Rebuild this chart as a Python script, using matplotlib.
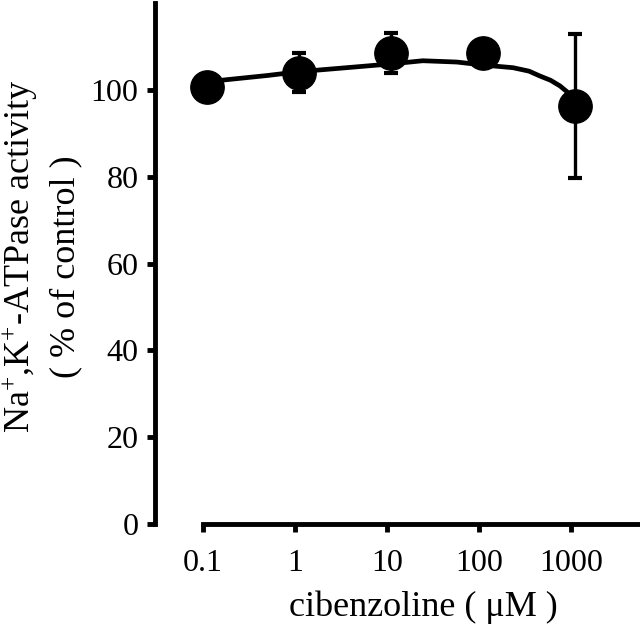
import matplotlib
matplotlib.use("Agg")
from matplotlib import pyplot as plt

# cibenzoline concentration (uM) and Na+,K+-ATPase activity (% of control)
conc = [0.11, 1.1, 11, 110, 1100]
activity = [100.7, 103.9, 108.5, 108.5, 96.2]
sem = [0, 4.5, 4.6, 0, 16.6]

# fitted curve
curve_x = [0.11, 0.174, 0.5, 1.13, 3.63, 11.5, 24.5, 57.5, 112, 234, 350, 457, 600, 759, 900, 1047, 1100]
curve_y = [101.8, 102.3, 103.3, 104.2, 105.1, 106.0, 106.7, 106.4, 105.7, 105.1, 104.3, 103.2, 102.2, 100.9, 99.6, 98.2, 96.9]

x_ticks = [0.1, 1, 10, 100, 1000]
x_tick_labels = ["0.1", "1", "10", "100", "1000"]
y_ticks = [0, 20, 40, 60, 80, 100]

plt.rcParams["font.family"] = ["Liberation Serif", "DejaVu Serif"]
plt.rcParams["mathtext.fontset"] = "custom"
plt.rcParams["mathtext.rm"] = "Liberation Serif"
plt.rcParams["mathtext.it"] = "Liberation Serif:italic"

fig = plt.figure(figsize=(6.4, 6.3), dpi=100)
ax = fig.add_axes([155 / 640, 1 - 524 / 630, 485 / 640, 521 / 630])

ax.set_xscale("log")
ax.set_xlim(10 ** -1.522, 10 ** 3.75)
ax.set_ylim(0, 120)

ax.plot(curve_x, curve_y, color="black", linewidth=3.4, solid_capstyle="round",
        solid_joinstyle="round", zorder=2)
ax.errorbar(conc, activity, yerr=sem, fmt="none", ecolor="black", elinewidth=2.4,
            capsize=5, capthick=3, zorder=3)
ax.plot(conc, activity, "o", color="black", markersize=24, zorder=4, clip_on=False)

ax.spines["top"].set_visible(False)
ax.spines["right"].set_visible(False)
ax.spines["left"].set_linewidth(3.5)
ax.spines["bottom"].set_linewidth(3.5)
ax.spines["left"].set_bounds(0, 120)
ax.spines["bottom"].set_bounds(0.1, 10 ** 3.75)

ax.set_xticks(x_ticks)
ax.set_xticklabels(x_tick_labels)
ax.xaxis.set_minor_locator(matplotlib.ticker.NullLocator())
ax.set_yticks(y_ticks)
ax.tick_params(direction="out", length=6, width=3.5, labelsize=23)
ax.tick_params(axis="y", pad=6)
ax.tick_params(axis="x", pad=12)

fig.text(423 / 640, 1 - 607 / 630, "cibenzoline ( \u03bcM )", fontsize=26,
         ha="center", va="center")
fig.text(20 / 640, 1 - 256 / 630, "Na$^{+}$,K$^{+}$-ATPase activity", fontsize=26,
         rotation=90, ha="center", va="center")
fig.text(66 / 640, 1 - 267 / 630, "( % of control )", fontsize=26,
         rotation=90, ha="center", va="center")

fig.savefig("out.png", dpi=100)
